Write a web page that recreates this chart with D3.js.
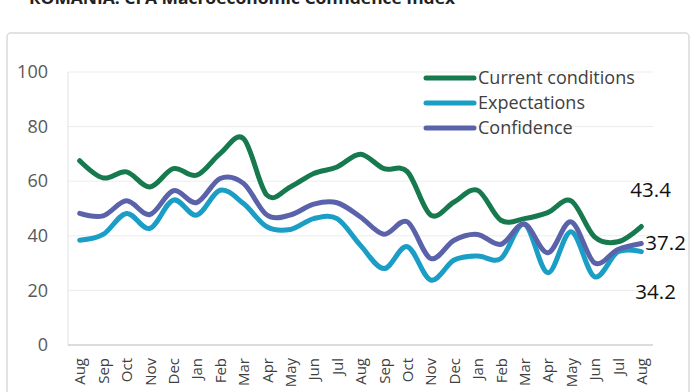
<!DOCTYPE html>
<html><head><meta charset="utf-8">
<script src="https://cdn.jsdelivr.net/npm/d3@7"></script>
<style>body{margin:0;background:#fff}svg{display:block}</style>
</head><body>
<svg id="c" width="700" height="392"></svg>
<script>
const months = ["Aug","Sep","Oct","Nov","Dec","Jan","Feb","Mar","Apr","May","Jun","Jul","Aug","Sep","Oct","Nov","Dec","Jan","Feb","Mar","Apr","May","Jun","Jul","Aug"];
const current = [67.5,61.2,63.4,57.9,64.6,62.2,70.1,75.6,54.9,57.9,62.8,65.2,69.9,64.6,63.5,47.6,52.4,56.7,45.7,46.3,48.5,52.8,39.6,37.8,43.4];
const expectations = [38.4,40.5,48.2,42.7,53.1,47.6,56.7,51.8,43.3,42.3,46.3,46.3,36.5,28.0,36.0,23.8,31.1,32.6,31.7,44.3,26.5,41.5,25.0,34.1,34.2];
const confidence = [48.2,47.3,52.8,47.8,56.5,52.2,61.0,59.2,47.6,47.6,51.6,52.1,46.9,40.6,45.1,31.7,38.4,40.5,36.9,44.3,33.8,45.1,30.1,35.0,37.2];
const seriesNames = ["Current conditions","Expectations","Confidence"];
const seriesColors = ["#17794e","#1b9ec6","#5a63aa"];
const yTicks = [0,20,40,60,80,100];
const title = "ROMANIA: CFA Macroeconomic Confidence Index";

const svg = d3.select("#c");
const L = 68, R = 653, T = 72, B = 345;

// title (cut off at top, as in the reference)
svg.append("text").attr("x",29).attr("y",4).attr("font-family","Open Sans, sans-serif")
  .attr("font-weight","bold").attr("font-size",16).attr("fill","#222")
  .attr("textLength",426).attr("lengthAdjust","spacingAndGlyphs").text(title);

// frame
svg.append("rect").attr("x",7).attr("y",33).attr("width",682).attr("height",400).attr("rx",4)
  .attr("fill","none").attr("stroke","#d9d9d9").attr("stroke-width",1.5);

const x = d3.scalePoint().domain(d3.range(months.length)).range([L,R]).padding(0.5);
const y = d3.scaleLinear().domain([0,100]).range([B,T]);

// gridlines
svg.append("g").selectAll("line").data(yTicks.filter(d=>d>0)).join("line")
  .attr("x1",L).attr("x2",R).attr("y1",d=>y(d)).attr("y2",d=>y(d))
  .attr("stroke","#ececec").attr("stroke-width",1);
svg.append("line").attr("x1",L).attr("x2",L).attr("y1",T).attr("y2",B).attr("stroke","#e2e2e2");

// y axis
const ya = svg.append("g").attr("transform",`translate(${L},0)`)
  .call(d3.axisLeft(y).tickValues(yTicks).tickSize(0).tickPadding(20));
ya.select(".domain").remove();
ya.selectAll("text").attr("font-family","Open Sans, sans-serif").attr("font-size",18).attr("fill","#595959");

// x axis
const xa = svg.append("g").attr("transform",`translate(0,${B})`)
  .call(d3.axisBottom(x).tickFormat(i=>months[i]).tickSize(0));
xa.select(".domain").attr("stroke","#d0d0d0").attr("stroke-width",1.5).attr("d",`M${L},0H${R}`);
xa.selectAll("text").attr("font-family","Open Sans, sans-serif").attr("font-size",15).attr("fill","#404040")
  .attr("transform","rotate(-90)").attr("text-anchor","end").attr("dy","0.35em").attr("x",-13).attr("y",0);

// lines
const line = d3.line().x((d,i)=>x(i)).y(d=>y(d)).curve(d3.curveCardinal.tension(0));
const data = [current, expectations, confidence];
svg.append("g").selectAll("path").data(data).join("path")
  .attr("d",line).attr("fill","none").attr("stroke",(d,i)=>seriesColors[i])
  .attr("stroke-width",5).attr("stroke-linecap","round").attr("stroke-linejoin","round");

// legend
const lg = svg.append("g");
seriesNames.forEach((n,i)=>{
  const ly = 78 + i*25;
  lg.append("line").attr("x1",426).attr("x2",474).attr("y1",ly).attr("y2",ly)
    .attr("stroke",seriesColors[i]).attr("stroke-width",5).attr("stroke-linecap","round");
  lg.append("text").attr("x",478).attr("y",ly).attr("dy","0.35em")
    .attr("font-family","Open Sans, sans-serif").attr("font-size",18).attr("fill","#404040").text(n);
});

// end labels
const last = months.length-1;
const endLabels = [
  {s: current, dx: -11, dy: -37},
  {s: confidence, dx: 4, dy: -1},
  {s: expectations, dx: -6, dy: 40}
];
endLabels.forEach(e=>{
  svg.append("text").attr("x",x(last)+e.dx).attr("y",y(e.s[last])+e.dy).attr("dy","0.35em")
    .attr("font-family","Open Sans, sans-serif").attr("font-size",20.5).attr("fill","#111")
    .text(d3.format(".1f")(e.s[last]));
});
</script>
</body></html>
